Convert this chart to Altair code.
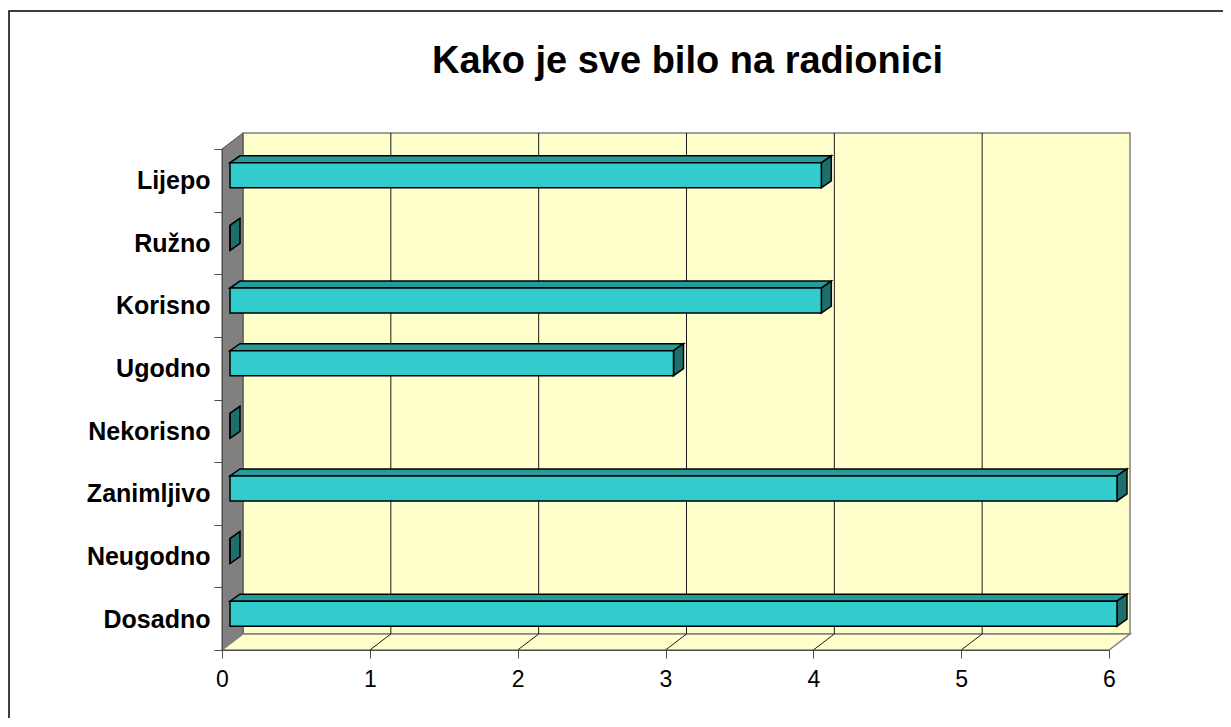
import json
import altair as alt
import pandas as pd

# ---------------- data (top to bottom as in the picture) ----------------
categories = ["Lijepo", "Ružno", "Korisno", "Ugodno", "Nekorisno", "Zanimljivo", "Neugodno", "Dosadno"]
values = [4, 0, 4, 3, 0, 6, 0, 6]
x_ticks = [0, 1, 2, 3, 4, 5, 6]
chart_title = "Kako je sve bilo na radionici"

# ---------------- style constants ----------------
W, H = 887, 501                     # plot area (front plane) in px
WALL_DX, WALL_DY = 21, -16          # depth of the 3-D box (px)
BAR_FRONT = (8, -5)                 # bar front face offset (px)
BAR_BACK = (18, -12)                # bar back face offset (px)
BAR_LO, BAR_HI = 0.3, 0.7           # bar thickness inside its band
YELLOW = "#FFFFCC"
WALL_GRAY = "#808080"
BAR_FACE = "#33CCCC"
BAR_TOP = "#289A9A"
BAR_SIDE = "#1E6E6E"
FONT = "Liberation Sans"

N = len(categories)
XMAX = x_ticks[-1]
PX_X = XMAX / W     # data units per pixel
PX_Y = N / H
pos = [N - 1 - i for i in range(N)]   # bottom category at 0

bars = pd.DataFrame({"cat": categories, "value": values, "pos": pos})
bars["y1"] = bars["pos"] + BAR_LO
bars["y2"] = bars["pos"] + BAR_HI

labels_bottom_up = categories[::-1]


def poly(rows, pid, pts):
    # points given as (data x, data y, pixel depth dx, pixel depth dy)
    for k, (x, y, dx, dy) in enumerate(pts):
        rows.append(dict(pid=pid, k=k, x=x + dx * PX_X, y=y - dy * PX_Y))


back_rows, side_rows, floor_rows, grid_rows, top_rows, cap_rows = [], [], [], [], [], []
poly(back_rows, "back", [(0, 0, WALL_DX, WALL_DY), (XMAX, 0, WALL_DX, WALL_DY),
                          (XMAX, N, WALL_DX, WALL_DY), (0, N, WALL_DX, WALL_DY)])
poly(side_rows, "side", [(0, 0, 0, 0), (0, N, 0, 0), (0, N, WALL_DX, WALL_DY), (0, 0, WALL_DX, WALL_DY)])
poly(floor_rows, "floor", [(0, 0, 0, 0), (XMAX, 0, 0, 0), (XMAX, 0, WALL_DX, WALL_DY), (0, 0, WALL_DX, WALL_DY)])
for t in x_ticks[1:-1]:
    poly(grid_rows, f"v{t}", [(t, 0, WALL_DX, WALL_DY), (t, N, WALL_DX, WALL_DY)])
    poly(grid_rows, f"f{t}", [(t, 0, 0, 0), (t, 0, WALL_DX, WALL_DY)])
for _, r in bars.iterrows():
    fx, fy = BAR_FRONT
    bx, by = BAR_BACK
    poly(top_rows, r["cat"], [(0, r["y2"], fx, fy), (r["value"], r["y2"], fx, fy),
                              (r["value"], r["y2"], bx, by), (0, r["y2"], bx, by)])
    poly(cap_rows, r["cat"], [(r["value"], r["y2"], fx, fy), (r["value"], r["y2"], bx, by),
                              (r["value"], r["y1"], bx, by), (r["value"], r["y1"], fx, fy)])

xscale = alt.Scale(domain=[0, XMAX], nice=False, zero=False)
yscale = alt.Scale(domain=[0, N], nice=False, zero=False)

xaxis = alt.Axis(values=x_ticks, title=None, grid=False, labelFlush=False, labelOverlap=False,
                 labelFont=FONT, labelFontSize=23, labelColor="#000000", labelPadding=10,
                 tickSize=8, tickColor="#4d4d4d", domainColor="#4d4d4d", format="d", zindex=1)
yaxis = alt.Axis(values=list(range(N + 1)), title=None, grid=False, labelOverlap=False,
                 labelExpr=f"datum.value < {N} ? {json.dumps(labels_bottom_up, ensure_ascii=False)}[datum.value] : ''",
                 labelOffset=-31, labelFont=FONT, labelFontSize=25, labelFontWeight="bold",
                 labelColor="#000000", labelPadding=4, tickSize=8, tickColor="#4d4d4d",
                 domainColor="#4d4d4d", zindex=1)


def poly_layer(rows, fill, stroke, width, closed=True):
    mark = dict(stroke=stroke, strokeWidth=width, strokeJoin="miter")
    if closed:
        mark.update(interpolate="linear-closed", fill=fill)
    return alt.Chart(pd.DataFrame(rows)).mark_line(**mark).encode(
        x=alt.X("x:Q", scale=xscale, axis=xaxis),
        y=alt.Y("y:Q", scale=yscale, axis=yaxis),
        detail="pid:N",
        order="k:Q",
    )


back = poly_layer(back_rows, YELLOW, WALL_GRAY, 1.5)
side = poly_layer(side_rows, WALL_GRAY, "#4d4d4d", 1)
floor = poly_layer(floor_rows, YELLOW, WALL_GRAY, 1.5)
grid = poly_layer(grid_rows, None, "#1a1a1a", 1, closed=False)
tops = poly_layer(top_rows, BAR_TOP, "#000000", 1.5)
caps = poly_layer(cap_rows, BAR_SIDE, "#000000", 1.5)
fronts = alt.Chart(bars).mark_rect(
    fill=BAR_FACE, stroke="#000000", strokeWidth=1.5,
    xOffset=BAR_FRONT[0], x2Offset=BAR_FRONT[0], yOffset=BAR_FRONT[1], y2Offset=BAR_FRONT[1]
).encode(
    x=alt.X("start:Q", scale=xscale, axis=xaxis),
    x2="value:Q",
    y=alt.Y("y1:Q", scale=yscale, axis=yaxis),
    y2="y2:Q",
).transform_calculate(start="0")

frame = alt.Chart(pd.DataFrame({"f": [0]})).mark_rect(
    fill="transparent", stroke="#000000", strokeWidth=1.5
).encode(
    x=alt.value(-213), x2=alt.value(1300), y=alt.value(-138), y2=alt.value(900)
)

chart = alt.layer(back, side, floor, grid, tops, caps, fronts, frame).properties(
    width=W, height=H,
    title=alt.TitleParams(chart_title, font=FONT, fontSize=38, fontWeight="bold", color="#000000",
                          anchor="middle", dx=22, offset=-71),
    autosize=alt.AutoSizeParams(type="none"),
    padding={"left": 214, "top": 141, "right": 114, "bottom": 68},
).configure_view(stroke=None).configure(background="white")

chart.save("out.html", embed_options={"renderer": "svg", "actions": False})
